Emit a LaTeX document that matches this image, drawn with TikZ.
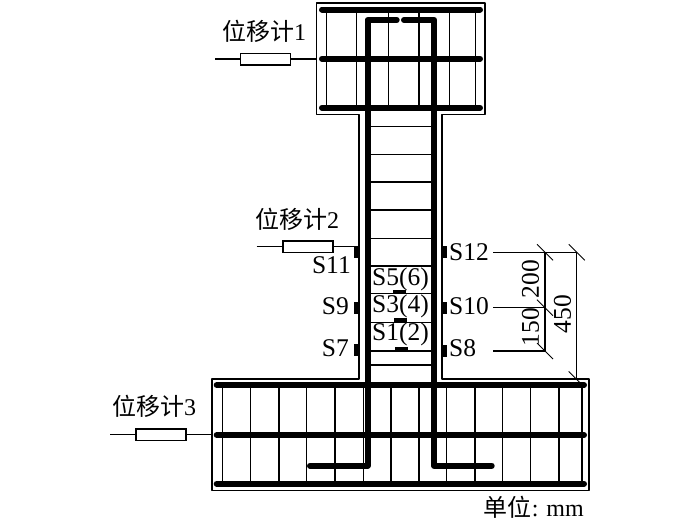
\documentclass[tikz,border=0pt]{standalone}
\usepackage{fontspec}
\setmainfont{Liberation Serif}
\newfontfamily\cjk{Noto Sans CJK SC}
\tikzset{
  outline/.style={line width=1.5pt,line join=round},
  thin bar/.style={line width=1.5pt},
  thick bar/.style={line width=6pt,line cap=round,line join=round},
  stirrup/.style={line width=1.4pt},
  gauge/.style={fill=black,draw=none,inner sep=0pt,minimum width=5pt,minimum height=12pt},
  inner gauge/.style={fill=black,draw=none,inner sep=0pt,minimum width=13pt,minimum height=4pt},
  meter/.style={draw,line width=1.5pt,fill=white,inner sep=0pt,minimum width=50pt,minimum height=11.5pt},
  lead/.style={line width=1.5pt},
  lbl/.style={inner sep=0pt,font=\fontsize{25.5}{25.5}\selectfont},
  cjklbl/.style={inner sep=0pt,font=\fontsize{24}{24}\selectfont},
  dim/.style={line width=1.4pt},
  tick/.style={line width=0.9pt}
}
\begin{document}
\begin{tikzpicture}[x=1pt,y=-1pt]
\useasboundingbox (0,0) rectangle (700,520);
% concrete outline
\draw[outline] (359,379) -- (212,379) -- (212,490.7) -- (589,490.7) -- (589,379) -- (442,379) -- (442,114.5) -- (485,114.5) -- (485,3) -- (316.5,3) -- (316.5,114.5) -- (359,114.5) -- cycle;
\fill[white] (360,378) rectangle (441,380.5);
% top block verticals
\foreach \x in {326.7,356.7,388.3,419,449.3,475.3}
  \draw[thin bar] (\x,9.5) -- (\x,107.7);
% bottom block verticals
\foreach \x in {222.7,250.7,279,306.7,335,363.3,391,419,446.7,475,502.7,530.7,559,582}
  \draw[thin bar] (\x,385) -- (\x,483.7);
% stirrups
\foreach \y in {126.7,154.3,182,210,238.3,266,293.7,322.5,351,365}
  \draw[stirrup] (367,\y) -- (434,\y);
% longitudinal bars
\foreach \y in {9.5,58.7,107.7}
  \draw[thick bar] (322,\y) -- (480,\y);
\foreach \y in {385,435,483.7}
  \draw[thick bar] (216.7,\y) -- (584,\y);
% column bars
\draw[thick bar] (396.7,20) -- (367.5,20) -- (367.5,465.7) -- (310,465.7);
\draw[thick bar] (404,20) -- (434.3,20) -- (434.3,465.7) -- (491.7,465.7);
% displacement meters
\node[meter] (m1) at (265.7,59) {};
\coordinate (m1a) at (215,59); \coordinate (m1b) at (316.5,59);
\draw[lead] (m1a) -- (m1); \draw[lead] (m1) -- (m1b);
\node[meter] (m2) at (307.8,246.5) {};
\coordinate (m2a) at (256.7,246.5); \coordinate (m2b) at (354,246.5);
\draw[lead] (m2a) -- (m2); \draw[lead] (m2) -- (m2b);
\node[meter] (m3) at (161,434.7) {};
\coordinate (m3a) at (110,434.7); \coordinate (m3b) at (212,434.7);
\draw[lead] (m3a) -- (m3); \draw[lead] (m3) -- (m3b);
\node[cjklbl,anchor=west] (t1) at (222,31) {\cjk 位移计\rmfamily 1};
\node[cjklbl,anchor=west] (t2) at (255,219) {\cjk 位移计\rmfamily 2};
\node[cjklbl,anchor=west] (t3) at (112,406) {\cjk 位移计\rmfamily 3};
% surface gauges
\node[gauge] (g11) at (356.4,252) {};
\node[gauge] (g9) at (356.4,308) {};
\node[gauge] (g7) at (356.4,349.5) {};
\node[gauge] (g12) at (444.8,252) {};
\node[gauge] (g10) at (444.8,308) {};
\node[gauge] (g8) at (444.8,350.5) {};
% inner gauges
\node[inner gauge] (g5) at (399,291.5) {};
\node[inner gauge] (g3) at (400,320) {};
\node[inner gauge] (g1) at (401,348.5) {};
% labels
\node[lbl,anchor=east] (s11) at (351,265) {S11};
\node[lbl,anchor=east] (s9) at (349,306) {S9};
\node[lbl,anchor=east] (s7) at (349,348) {S7};
\node[lbl,anchor=west] (s12) at (449,252) {S12};
\node[lbl,anchor=west] (s10) at (449,306) {S10};
\node[lbl,anchor=west] (s8) at (449,348) {S8};
\node[lbl,anchor=west] (s5) at (372,279) {S5(6)};
\node[lbl,anchor=west] (s3) at (372,306) {S3(4)};
\node[lbl,anchor=west] (s1) at (372,334) {S1(2)};
% dimensions
\coordinate (d1) at (545,252.3);
\coordinate (d2) at (545,307.7);
\coordinate (d3) at (545,351);
\coordinate (e1) at (576.7,252.3);
\coordinate (e2) at (576.7,379.5);
\coordinate (x1) at (493.3,252.3);
\coordinate (x2) at (493.3,307.7);
\coordinate (x3) at (493.3,351);
\draw[dim] (x1) -- (e1);
\draw[dim] (x2) -- (d2);
\draw[dim] (x3) -- (d3);
\draw[dim] (d1) -- (d3);
\draw[dim] (e1) -- (e2);
\foreach \c in {d1,d2,d3,e1,e2}
  \draw[tick] (\c) ++(-8,-8) -- ++(16,16);
\node[lbl,rotate=90] (l200) at (530.5,279) {200};
\node[lbl,rotate=90] (l150) at (530.5,327) {150};
\node[lbl,rotate=90] (l450) at (562.5,314) {450};
\node[cjklbl,anchor=east] (unit) at (584,507) {\cjk 单位\rmfamily: mm};
\end{tikzpicture}
\end{document}
